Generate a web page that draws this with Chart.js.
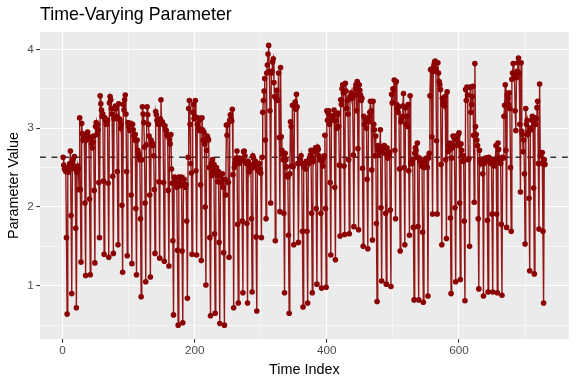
<!DOCTYPE html>
<html><head><meta charset="utf-8">
<script src="https://cdn.jsdelivr.net/npm/chart.js@4"></script>
<style>html,body{margin:0;padding:0;background:#fff}canvas{display:block}</style>
</head><body><canvas id="c" width="576" height="384"></canvas>
<script>
const paramValues = [
2.63,2.53,2.48,2.47,2.45,1.61,0.64,
2.50,2.44,2.47,2.55,2.71,1.89,0.90,
2.55,2.60,2.50,2.64,2.48,1.73,0.72,
2.44,2.52,2.48,2.22,3.13,2.22,1.30,
3.06,2.93,2.85,2.88,2.87,2.05,1.13,
2.85,2.93,2.95,2.90,2.87,2.10,1.14,
2.87,2.80,2.75,2.82,2.90,2.21,1.29,
3.02,3.07,2.92,3.05,2.98,2.31,1.61,
3.41,3.31,3.23,3.15,3.18,2.33,1.40,
3.13,3.10,3.05,3.05,3.10,2.30,1.36,
3.32,3.40,3.36,3.25,3.18,2.39,1.41,
3.12,3.25,3.28,3.25,3.15,2.45,1.52,
3.31,3.12,3.10,3.00,3.05,2.02,1.17,
3.30,3.23,3.36,3.42,3.18,2.45,1.38,
3.07,3.02,3.05,2.97,3.06,2.15,1.28,
3.05,2.98,2.90,2.85,2.92,1.98,1.14,
2.85,2.72,2.68,2.65,2.60,1.85,0.86,
2.60,3.27,3.18,3.07,2.76,2.05,1.05,
2.79,3.27,3.17,3.05,2.90,2.15,1.11,
2.85,2.82,2.80,2.78,2.65,2.22,1.41,
3.21,3.17,3.10,3.08,3.05,2.32,1.35,
3.12,3.36,3.07,3.08,3.05,2.31,1.31,
3.03,2.98,2.97,2.92,2.90,2.21,1.25,
2.86,2.80,2.92,2.48,2.30,1.57,0.63,
2.38,2.33,2.37,2.30,2.25,1.45,0.50,
2.38,2.30,2.35,2.27,2.38,1.44,0.53,
2.28,2.35,2.28,2.25,2.28,1.82,0.84,
2.63,3.25,3.35,3.05,2.55,2.43,1.40,
3.20,3.30,3.12,3.15,3.35,2.46,1.39,
3.05,3.13,3.00,2.97,3.10,2.28,1.32,
3.13,2.98,2.85,2.95,2.80,2.00,1.01,
2.72,2.90,2.87,2.85,2.50,1.61,0.62,
2.55,2.40,2.60,2.47,2.54,1.66,0.65,
2.45,2.50,2.40,2.32,2.45,1.55,0.52,
2.40,2.33,2.30,2.42,2.25,1.42,0.50,
2.35,2.15,3.04,2.91,3.04,2.31,1.36,
3.10,3.17,3.12,3.09,3.24,2.41,0.72,
2.50,2.55,2.60,2.62,2.71,1.78,0.78,
2.55,2.62,2.60,2.58,2.60,1.82,0.91,
2.70,2.71,2.65,2.58,2.55,1.79,0.78,
2.58,2.55,2.45,2.52,2.50,1.85,0.92,
2.65,2.62,2.55,2.50,2.58,1.62,0.68,
2.52,2.46,2.47,2.55,2.48,2.43,1.61,
2.63,3.20,3.35,3.47,3.63,2.85,1.85,
3.70,3.80,3.94,4.05,3.72,3.22,2.05,
3.70,3.72,3.84,3.88,3.58,3.40,1.57,
3.38,3.48,3.35,3.36,3.70,2.88,1.94,
3.77,2.89,2.72,2.67,2.60,1.92,0.91,
2.68,2.60,2.51,2.40,2.38,1.64,0.65,
2.42,3.08,3.02,2.52,3.29,2.51,1.52,
3.27,3.33,3.24,3.43,3.27,2.55,1.55,
2.55,2.58,2.60,2.65,2.55,1.69,0.73,
2.53,2.50,2.55,2.48,2.58,1.69,0.78,
2.58,2.55,2.62,2.66,2.72,1.92,0.91,
2.62,2.58,2.72,2.70,2.75,1.98,1.02,
2.76,2.73,2.65,2.60,2.62,1.92,0.97,
2.58,2.52,2.62,2.65,2.91,1.98,0.98,
3.22,3.10,3.19,3.22,3.05,2.31,1.39,
3.15,3.12,3.10,3.16,3.23,2.25,1.33,
3.10,3.00,3.17,3.19,3.02,2.53,1.63,
3.36,3.30,3.50,3.55,3.45,2.52,1.65,
3.57,3.47,3.25,3.35,3.18,2.60,1.66,
3.40,3.38,3.45,3.38,3.42,2.66,1.75,
3.42,3.50,3.55,3.22,3.59,2.74,1.71,
3.55,3.48,3.42,3.35,3.38,2.49,1.50,
3.15,3.05,3.12,3.10,3.00,2.35,1.47,
3.08,3.14,3.20,3.34,3.22,2.47,1.58,
3.34,3.05,2.98,2.65,2.90,1.79,0.80,
2.78,2.72,2.67,2.70,2.98,1.99,1.06,
2.76,2.72,2.70,2.78,2.68,1.92,1.02,
2.75,2.62,2.70,2.65,2.68,1.96,0.99,
3.43,3.32,3.50,3.49,3.61,2.72,1.85,
3.59,3.30,3.25,3.20,3.27,2.48,1.44,
3.08,3.12,3.15,3.28,3.44,2.50,1.52,
3.26,3.05,3.15,3.02,3.30,2.46,1.64,
3.41,2.55,2.58,2.55,2.60,1.74,0.82,
2.68,2.75,2.72,2.63,2.81,1.75,0.82,
2.62,2.58,2.60,2.52,2.55,1.68,0.79,
2.50,2.55,2.60,2.58,2.62,2.50,0.87,
2.62,2.68,3.41,3.74,3.75,2.89,1.91,
3.72,3.80,3.84,3.85,3.75,2.84,1.91,
3.83,3.70,3.59,3.55,3.49,2.54,1.52,
3.38,3.30,3.33,3.28,3.40,2.60,1.60,
3.46,2.70,2.78,2.72,2.81,1.86,0.90,
2.62,2.75,2.90,2.78,2.87,1.99,1.05,
2.90,2.85,2.78,2.92,2.94,2.05,1.08,
2.80,2.72,2.65,2.58,2.65,1.82,0.81,
3.49,3.35,3.52,3.42,2.60,2.61,1.50,
3.52,3.20,3.30,3.40,3.53,2.91,2.06,
3.82,3.02,2.92,2.85,2.78,1.85,0.96,
2.72,2.60,2.55,2.58,2.60,2.42,0.87,
2.55,2.60,2.62,2.58,2.62,1.83,0.92,
2.63,2.62,2.58,2.55,2.60,1.91,0.92,
2.55,2.52,2.58,2.60,2.78,1.91,0.91,
2.81,2.73,2.62,2.58,2.55,1.78,0.88,
2.63,2.62,3.15,3.29,3.55,2.72,1.74,
3.42,3.38,3.30,3.45,3.25,2.50,1.69,
3.62,3.70,3.82,3.68,3.65,3.22,2.97,
3.64,3.72,3.83,3.89,3.70,3.05,2.19,
3.83,2.96,2.92,2.70,2.85,2.42,1.53,
3.25,3.05,3.10,2.92,2.95,2.11,1.19,
3.00,2.98,3.10,3.15,3.13,2.24,1.15,
3.13,3.05,3.12,3.26,3.34,2.55,1.72,
3.56,2.65,2.69,2.55,2.69,1.69,0.78,
2.60,2.54
];
const timeIndex = paramValues.map((v, i) => i + 1);
const meanLevel = 2.63;
const xTicks = [0, 100, 200, 300, 400, 500, 600, 700];
const xLabelled = [0, 200, 400, 600];
const yTicks = [0.5, 1, 1.5, 2, 2.5, 3, 3.5, 4];
const yLabelled = [1, 2, 3, 4];
const xRange = [-34.05, 766];
const yRange = [0.324, 4.22];

const panelBg = {id:'panelBg', beforeDraw(ch){const a=ch.chartArea,g=ch.ctx;g.save();g.fillStyle='#EBEBEB';g.fillRect(a.left,a.top,a.right-a.left,a.bottom-a.top);g.restore();}};
const tickFont = {family:'"Liberation Sans"', size:11.7};
const titleFont = {family:'"Liberation Sans"', size:14.4};

new Chart(document.getElementById('c'), {
  type:'line',
  plugins:[panelBg],
  data:{datasets:[
    {data:timeIndex.map((t,i)=>({x:t,y:paramValues[i]})), borderColor:'rgba(139,0,0,0.9)', borderWidth:1.4, pointRadius:2.8, pointBackgroundColor:'#8B0000', pointBorderColor:'#8B0000', pointBorderWidth:0, tension:0, order:1},
    {data:[{x:xRange[0],y:meanLevel},{x:xRange[1],y:meanLevel}], borderColor:'#333333', borderWidth:1.4, borderDash:[5.8,5.8], pointRadius:0, order:2}
  ]},
  options:{
    responsive:false, animation:false, devicePixelRatio:1,
    layout:{padding:{left:0,right:7.3,top:0,bottom:0}},
    plugins:{
      legend:{display:false}, tooltip:{enabled:false},
      title:{display:true,text:'Time-Varying Parameter',align:'start',fullSize:false,color:'#000',font:{family:'"Liberation Sans"',size:17.8,weight:'normal',lineHeight:1},padding:{top:6,bottom:8.2}}
    },
    scales:{
      x:{type:'linear',min:xRange[0],max:xRange[1],
        afterBuildTicks(s){s.ticks=xTicks.map(v=>({value:v}));},
        afterFit(s){s.height=45;},
        border:{display:false},
        grid:{color:'#fff',lineWidth:c=>xLabelled.includes(c.tick.value)?1.07:0.53,tickColor:c=>xLabelled.includes(c.tick.value)?'#333333':'rgba(0,0,0,0)',tickLength:3.7,tickWidth:1.07},
        ticks:{autoSkip:false,maxRotation:0,color:'#4D4D4D',font:tickFont,padding:1.5,callback:v=>xLabelled.includes(v)?String(v):''},
        title:{display:true,text:'Time Index',color:'#000',font:titleFont,padding:{top:3,bottom:5}}
      },
      y:{type:'linear',min:yRange[0],max:yRange[1],
        afterBuildTicks(s){s.ticks=yTicks.map(v=>({value:v}));},
        afterFit(s){s.width=40;},
        border:{display:false},
        grid:{color:'#fff',lineWidth:c=>yLabelled.includes(c.tick.value)?1.07:0.53,tickColor:c=>yLabelled.includes(c.tick.value)?'#333333':'rgba(0,0,0,0)',tickLength:3.7,tickWidth:1.07},
        ticks:{autoSkip:false,color:'#4D4D4D',font:tickFont,padding:2.5,callback:v=>yLabelled.includes(v)?String(v):''},
        title:{display:true,text:'Parameter Value',color:'#000',font:titleFont,padding:{top:5,bottom:3}}
      }
    }
  }
});
</script></body></html>
